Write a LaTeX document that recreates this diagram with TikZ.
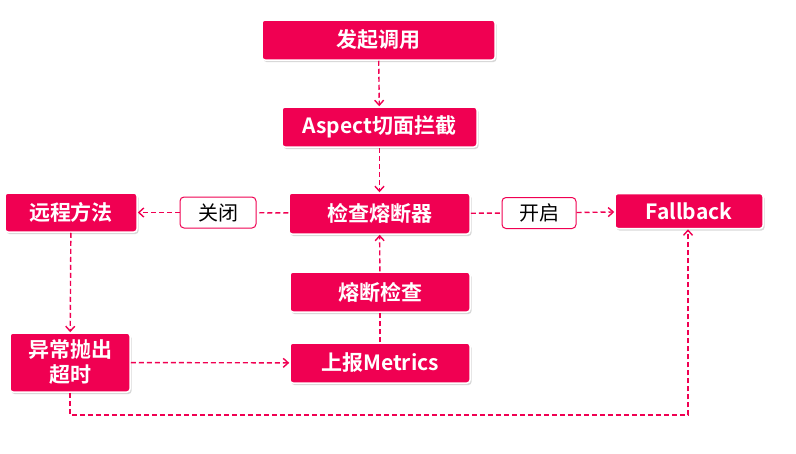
\documentclass[tikz,border=0pt]{standalone}
\usepackage{fontspec}
\setmainfont{Noto Sans CJK SC}
\newfontfamily\cjkb{Noto Sans CJK SC Bold}
\usetikzlibrary{arrows.meta,shadows}
\definecolor{crim}{RGB}{240,0,82}
\tikzset{
  box/.style={fill=crim, draw=white, line width=1.5pt, rounded corners=3pt,
    text=white, font=\cjkb\fontsize{21}{24}\selectfont, inner sep=0pt, align=center,
    drop shadow={opacity=0.3, shadow xshift=1.5pt, shadow yshift=-2pt}},
  lbl/.style={fill=white, draw=crim, line width=1pt, rounded corners=4pt,
    text=black, font=\fontsize{20}{22}\selectfont, inner sep=0pt,
    minimum width=76pt, minimum height=31pt},
  conn/.style={draw=crim, dashed, dash pattern=on 5pt off 3pt, line width=1.4pt},
  arr/.style={conn, -{Straight Barb[length=5pt,width=9pt,line width=1.4pt]}}
}
\begin{document}
\begin{tikzpicture}[x=1pt,y=-1pt]
\path[use as bounding box, fill=white] (0,0) rectangle (796,453);
\node[box, minimum width=233pt, minimum height=40pt] (call) at (378.5,40) {发起调用};
\node[box, minimum width=195pt, minimum height=40pt] (aop) at (379.5,127) {Aspect切面拦截};
\node[box, minimum width=181pt, minimum height=41pt] (chk) at (379.5,213.5) {检查熔断器};
\node[box, minimum width=132pt, minimum height=39pt] (remote) at (71,212.5) {远程方法};
\node[box, minimum width=148pt, minimum height=35pt] (fb) at (689,211) {Fallback};
\node[box, minimum width=180pt, minimum height=40pt] (cbc) at (380,292) {熔断检查};
\node[box, minimum width=180pt, minimum height=40pt] (met) at (380,363) {上报Metrics};
\node[box, minimum width=120pt, minimum height=59pt, font=\cjkb\fontsize{21}{25}\selectfont] (exc) at (70,362.5) {异常抛出\\超时};
\node[lbl] (close) at (218,212.5) {关闭};
\node[lbl, minimum width=74pt] (open) at (539,213) {开启};
\coordinate (c1) at (70,415);
\coordinate (c2) at (688,415);
\draw[arr] (call) -- (aop);
\draw[arr] (aop) -- (chk);
\draw[conn] (chk) -- (close);
\draw[arr] (close) -- (remote);
\draw[conn] (chk) -- (open);
\draw[arr] (open) -- (fb);
\draw[arr] (remote) -- (exc);
\draw[arr] (exc) -- (met);
\draw[conn] (met) -- (cbc);
\draw[arr] (cbc) -- (chk);
\draw[arr] (exc.south) -- (c1) -- (c2) -- (fb.south -| c2);
\end{tikzpicture}
\end{document}
